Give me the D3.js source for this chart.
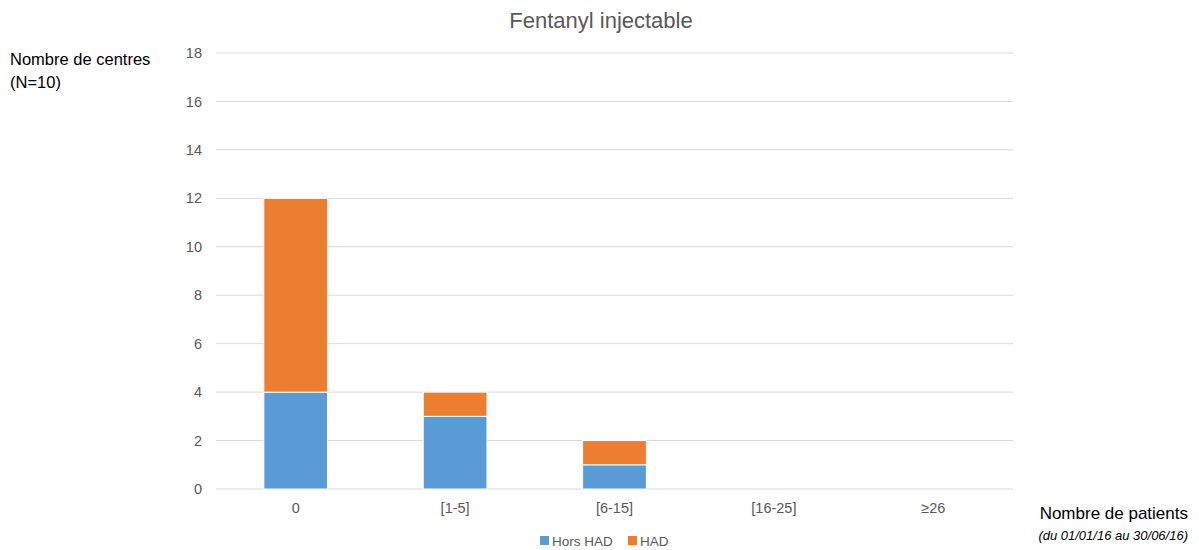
<!DOCTYPE html>
<html>
<head>
<meta charset="utf-8">
<script src="https://cdn.jsdelivr.net/npm/d3@7"></script>
<style>
  body { margin: 0; background: #fff; }
  svg { display: block; font-family: "Liberation Sans", Arial, sans-serif; }
</style>
</head>
<body>
<svg id="chart" width="1199" height="550"></svg>
<script>
// Number of centres by patient-count class, split by HAD status
const categories = ["0", "[1-5]", "[6-15]", "[16-25]", "\u226526"];
const horsHAD = [4, 3, 1, 0, 0];
const had = [8, 1, 1, 0, 0];
const seriesNames = ["Hors HAD", "HAD"];
const seriesColors = ["#5b9bd5", "#ed7d31"];
const yTicks = [0, 2, 4, 6, 8, 10, 12, 14, 16, 18];

const svg = d3.select("#chart");
const margin = { left: 216, right: 186, top: 53, bottom: 61 };
const W = 1199, H = 550;

const x = d3.scaleBand().domain(categories)
  .range([margin.left, W - margin.right]).paddingInner(0.6).paddingOuter(0.3);
const y = d3.scaleLinear().domain([0, 18]).range([H - margin.bottom, margin.top]);

// Grid lines
svg.append("g").selectAll("line").data(yTicks).join("line")
  .attr("x1", margin.left).attr("x2", W - margin.right)
  .attr("y1", d => y(d)).attr("y2", d => y(d))
  .attr("stroke", "#d9d9d9").attr("stroke-width", 1);

// Y axis tick labels
const yAxis = d3.axisLeft(y).tickValues(yTicks).tickSize(0).tickPadding(14);
const ya = svg.append("g").attr("transform", `translate(${margin.left},0)`).call(yAxis);
ya.select(".domain").remove();
ya.selectAll("text").attr("fill", "#595959").style("font-size", "14.5px")
  .style("font-family", "Liberation Sans, Arial, sans-serif");

// X axis tick labels
const xAxis = d3.axisBottom(x).tickSize(0).tickPadding(14);
const xa = svg.append("g").attr("transform", `translate(0,${y(0)})`).call(xAxis);
xa.select(".domain").remove();
xa.selectAll("text").attr("fill", "#595959").style("font-size", "14.5px")
  .style("font-family", "Liberation Sans, Arial, sans-serif");

// Stacked bars
const rows = categories.map((c, i) => ({ cat: c, "Hors HAD": horsHAD[i], "HAD": had[i] }));
const stacked = d3.stack().keys(seriesNames)(rows);
svg.append("g").selectAll("g").data(stacked).join("g")
  .attr("fill", (d, i) => seriesColors[i])
  .selectAll("rect").data(d => d.filter(s => s[1] - s[0] > 0)).join("rect")
  .attr("x", d => x(d.data.cat))
  .attr("width", x.bandwidth())
  .attr("y", d => y(d[1]))
  .attr("height", d => y(d[0]) - y(d[1]))
  .attr("stroke", "#fff").attr("stroke-width", 1);

// Title
svg.append("text").attr("x", 601).attr("y", 28).attr("text-anchor", "middle")
  .attr("fill", "#595959").style("font-size", "22px").text("Fentanyl injectable");

// Axis titles
const yt = svg.append("text").attr("x", 10).attr("fill", "#000").style("font-size", "16.5px");
yt.append("tspan").attr("x", 10).attr("y", 65).text("Nombre de centres");
yt.append("tspan").attr("x", 10).attr("y", 88).text("(N=10)");

svg.append("text").attr("x", 1188).attr("y", 519).attr("text-anchor", "end")
  .attr("fill", "#000").style("font-size", "17px").text("Nombre de patients");
svg.append("text").attr("x", 1188).attr("y", 540).attr("text-anchor", "end")
  .attr("fill", "#000").style("font-size", "13px").style("font-style", "italic")
  .text("(du 01/01/16 au 30/06/16)");

// Legend
const legend = svg.append("g").attr("transform", "translate(540,536)");
const items = legend.selectAll("g").data(seriesNames).join("g")
  .attr("transform", (d, i) => `translate(${i === 0 ? 0 : 88},0)`);
items.append("rect").attr("width", 9).attr("height", 9).attr("y", 0)
  .attr("fill", (d, i) => seriesColors[i]);
items.append("text").attr("x", 12).attr("y", 9.5).attr("fill", "#595959")
  .style("font-size", "13.5px").text(d => d);
</script>
</body>
</html>
